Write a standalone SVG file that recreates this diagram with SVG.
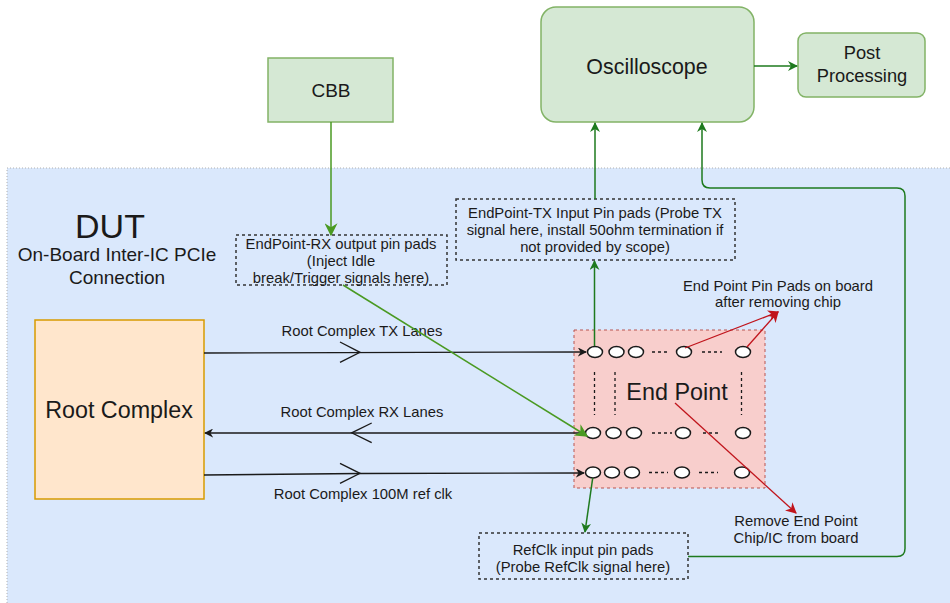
<svg xmlns="http://www.w3.org/2000/svg" width="950" height="603" viewBox="0 0 950 603">
<defs>
<style>
text{font-family:"Liberation Sans",Arial,sans-serif;fill:#1a1a1a;text-anchor:middle}
.g{fill:#d5e8d4;stroke:#82b366;stroke-width:1.5}
.dbox{fill:none;stroke:#333;stroke-width:1.5;stroke-dasharray:3 3}
.pad{fill:#fff;stroke:#1a1a1a;stroke-width:1.5}
.dash{stroke:#1a1a1a;stroke-width:1.3;stroke-dasharray:3 3;fill:none}
.blk{stroke:#1a1a1a;stroke-width:1.3;fill:none}
.grn{stroke:#1e7a1e;stroke-width:1.5;fill:none}
.lgrn{stroke:#4a9a22;stroke-width:1.5;fill:none}
.red{stroke:#c0141c;stroke-width:1.3;fill:none}
.t14{font-size:14.8px}
.t13{font-size:14.8px}
</style>
<marker id="mb" viewBox="0 0 10 10" refX="9" refY="5" markerWidth="9" markerHeight="9" markerUnits="userSpaceOnUse" orient="auto"><path d="M0,0 L10,5 L0,10 L3,5 Z" fill="#1a1a1a"/></marker>
<marker id="mg" viewBox="0 0 10 10" refX="9" refY="5" markerWidth="10" markerHeight="10" markerUnits="userSpaceOnUse" orient="auto"><path d="M0,0 L10,5 L0,10 L3,5 Z" fill="#1e7a1e"/></marker>
<marker id="mlg" viewBox="0 0 10 10" refX="9" refY="5" markerWidth="13" markerHeight="13" markerUnits="userSpaceOnUse" orient="auto"><path d="M0,0 L10,5 L0,10 L3,5 Z" fill="#4a9a22"/></marker>
<marker id="mr" viewBox="0 0 10 10" refX="9" refY="5" markerWidth="11" markerHeight="11" markerUnits="userSpaceOnUse" orient="auto"><path d="M0,0 L10,5 L0,10 L3,5 Z" fill="#c0141c"/></marker>
</defs>
<rect width="950" height="603" fill="#fff"/>
<g id="dut">
<rect x="7" y="168" width="950" height="445" fill="#dae8fc" stroke="#b0b0b0" stroke-width="1" stroke-dasharray="1 2"/>
<text x="110" y="238" style="font-size:34px">DUT</text>
<text x="117" y="261" style="font-size:19px">On-Board Inter-IC PCIe</text>
<text x="117" y="284" style="font-size:19px">Connection</text>
</g>
<g id="cbb"><rect class="g" x="268" y="58" width="125" height="64"/><text x="331" y="97" style="font-size:19px">CBB</text></g>
<g id="oscilloscope"><rect class="g" x="541" y="7" width="213" height="115" rx="15"/><text x="647" y="74" style="font-size:21.4px">Oscilloscope</text></g>
<g id="post"><rect class="g" x="798" y="33" width="127" height="64" rx="8"/><text x="862" y="59" style="font-size:18.3px">Post</text><text x="862" y="82" style="font-size:18.3px">Processing</text></g>
<g id="root"><rect x="35" y="320" width="169" height="179" fill="#ffe6cc" stroke="#d79b00" stroke-width="1.5"/><text x="119" y="418" style="font-size:23.3px">Root Complex</text></g>
<g id="rxpads"><rect class="dbox" x="236" y="235" width="211" height="50"/>
<text class="t13" x="341" y="249">EndPoint-RX output pin pads</text>
<text class="t13" x="341" y="266">(Inject Idle</text>
<text class="t13" x="341" y="283">break/Trigger signals here)</text></g>
<g id="txpads"><rect class="dbox" x="456" y="199" width="279" height="61"/>
<text class="t13" x="595" y="218">EndPoint-TX Input Pin pads (Probe TX</text>
<text class="t13" x="595" y="235">signal here, install 50ohm termination if</text>
<text class="t13" x="595" y="252">not provided by scope)</text></g>
<g id="refclk"><rect class="dbox" x="479" y="533" width="209" height="46"/>
<text class="t13" x="583" y="555">RefClk input pin pads</text>
<text class="t13" x="583" y="572">(Probe RefClk signal here)</text></g>
<g id="endpoint">
<rect x="574" y="330" width="191" height="158" fill="#f8cecc" stroke="#b85450" stroke-width="1" stroke-dasharray="3 3"/>
<text x="677" y="400" style="font-size:23.4px">End Point</text>
<g class="pad">
<ellipse cx="595" cy="352" rx="7.5" ry="5.5"/><ellipse cx="616.5" cy="352" rx="7.5" ry="5.5"/><ellipse cx="636" cy="352" rx="7.5" ry="5.5"/><ellipse cx="684" cy="352" rx="7.5" ry="5.5"/><ellipse cx="743" cy="352" rx="7.5" ry="5.5"/>
<ellipse cx="593" cy="433" rx="7.5" ry="5.5"/><ellipse cx="613.5" cy="433" rx="7.5" ry="5.5"/><ellipse cx="634" cy="433" rx="7.5" ry="5.5"/><ellipse cx="683" cy="433" rx="7.5" ry="5.5"/><ellipse cx="743" cy="433" rx="7.5" ry="5.5"/>
<ellipse cx="593" cy="472.5" rx="7.5" ry="5.5"/><ellipse cx="612" cy="472.5" rx="7.5" ry="5.5"/><ellipse cx="632" cy="472.5" rx="7.5" ry="5.5"/><ellipse cx="682" cy="472.5" rx="7.5" ry="5.5"/><ellipse cx="742" cy="472.5" rx="7.5" ry="5.5"/>
</g>
<path class="dash" d="M652,352 H667 M702,352 H722 M652,433 H672 M703,433 H720 M649,472.5 H668 M699,472.5 H718 M594.5,372 V415 M615,372 V415 M741.5,372 V415"/>
</g>
<g id="labels">
<text class="t14" x="362" y="336">Root Complex TX Lanes</text>
<text class="t14" x="362" y="417">Root Complex RX Lanes</text>
<text class="t14" x="363" y="499">Root Complex 100M ref clk</text>
<text class="t13" x="778" y="291">End Point Pin Pads on board</text>
<text class="t13" x="778" y="307">after removing chip</text>
<text class="t13" x="796" y="526">Remove End Point</text>
<text class="t13" x="796" y="543">Chip/IC from board</text>
</g>
<g id="connectors">
<path class="blk" d="M204,353 L586,352" marker-end="url(#mb)"/>
<path class="blk" d="M340,342 L360,352.3 L340,362.3"/>
<path class="blk" d="M585,433 L205,433" marker-end="url(#mb)"/>
<path class="blk" d="M371.7,423 L351.7,432.8 L371.7,442.7"/>
<path class="blk" d="M204,475 L360,473.5 L584,473" marker-end="url(#mb)"/>
<path class="blk" d="M340,463.3 L360,473.3 L340,483.3"/>
<path class="lgrn" d="M331,122 V235" marker-end="url(#mlg)"/>
<path class="lgrn" d="M343,285 L587,436" marker-end="url(#mlg)"/>
<path class="grn" d="M595,199 V123" marker-end="url(#mg)"/>
<path class="grn" d="M594.5,346 V261" marker-end="url(#mg)"/>
<path class="grn" d="M754,66 H797" marker-end="url(#mg)"/>
<path class="grn" d="M688,556.5 H897 Q905,556.5 905,548.5 V196 Q905,188 897,188 H710 Q702,188 702,180 V123" marker-end="url(#mg)"/>
<path class="grn" d="M592.7,478 L585,532" marker-end="url(#mg)"/>
<path class="red" d="M685,348 L778,312" marker-end="url(#mr)"/>
<path class="red" d="M747,347 L778,312" marker-end="url(#mr)"/>
<path class="red" d="M675,403 L796,513" marker-end="url(#mr)"/>
</g>
</svg>
